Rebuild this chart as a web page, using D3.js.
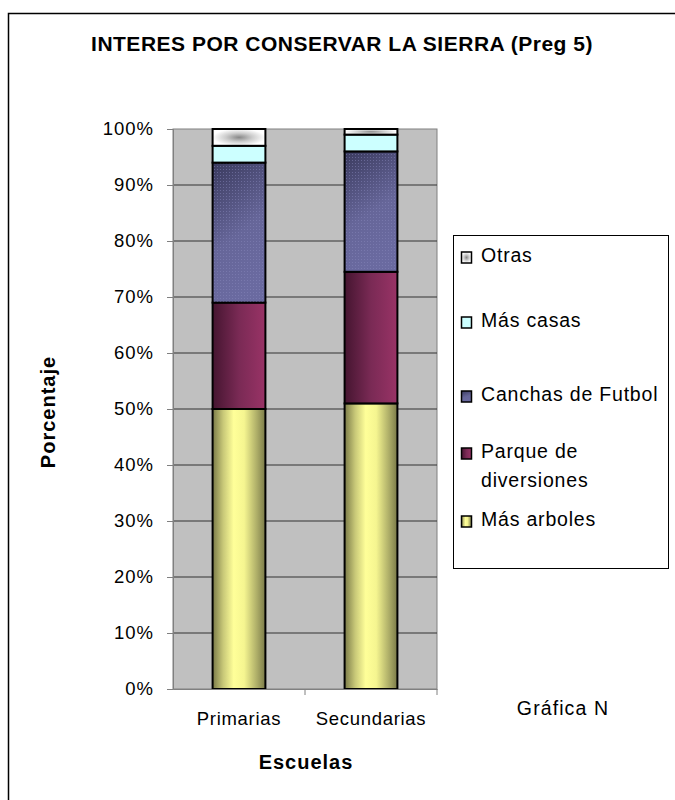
<!DOCTYPE html>
<html><head><meta charset="utf-8">
<script src="https://cdn.jsdelivr.net/npm/d3@7"></script>
<style>body{margin:0;background:#fff}svg{display:block;font-family:"Liberation Sans",Arial,sans-serif}</style>
</head><body><svg id="c" width="675" height="800"></svg>
<script>
const categories = ["Primarias", "Secundarias"];
const seriesNames = ["Más arboles", "Parque de diversiones", "Canchas de Futbol", "Más casas", "Otras"];
const masArboles = [50, 51];
const parque = [19, 23.5];
const canchas = [25, 21.5];
const masCasas = [3, 3];
const otras = [3, 1];
const yTicks = [0, 10, 20, 30, 40, 50, 60, 70, 80, 90, 100];
const title = "INTERES POR CONSERVAR LA SIERRA (Preg 5)";

const svg = d3.select("#c");
const defs = svg.append("defs");
function hgrad(id, stops) {
  const g = defs.append("linearGradient").attr("id", id).attr("x1", "0").attr("x2", "1").attr("y1", "0").attr("y2", "0");
  stops.forEach(s => g.append("stop").attr("offset", s[0]).attr("stop-color", s[1]));
}
hgrad("gYellow", [[0, "#7a7a48"], [0.2, "#c8c878"], [0.4, "#ffff99"], [0.6, "#f5f590"], [0.85, "#aaaa66"], [1, "#7a7a48"]]);
hgrad("gMaroon", [[0, "#451530"], [0.5, "#7a2a55"], [1, "#993366"]]);
const gb = defs.append("linearGradient").attr("id", "gBlue").attr("x1", "0").attr("x2", "0.3").attr("y1", "0").attr("y2", "1");
gb.append("stop").attr("offset", 0).attr("stop-color", "#3a3a5e");
gb.append("stop").attr("offset", 0.6).attr("stop-color", "#666699");
gb.append("stop").attr("offset", 1).attr("stop-color", "#6a6aa0");
const pb = defs.append("pattern").attr("id", "pDots").attr("width", 3).attr("height", 3).attr("patternUnits", "userSpaceOnUse");
pb.append("rect").attr("x", 1).attr("y", 1).attr("width", 1).attr("height", 1).attr("fill", "#8888bb").attr("opacity", 0.5);
const og = defs.append("radialGradient").attr("id", "gOtrasR");
og.append("stop").attr("offset", 0).attr("stop-color", "#888");
og.append("stop").attr("offset", 0.5).attr("stop-color", "#ccc");
og.append("stop").attr("offset", 1).attr("stop-color", "#fff");

const fills = ["url(#gYellow)", "url(#gMaroon)", "url(#gBlue)", "#ccffff", "url(#gOtrasR)"];
const FONT = "Liberation Sans, Arial, sans-serif";

svg.append("rect").attr("x", 8.5).attr("y", 13.5).attr("width", 700).attr("height", 800).attr("fill", "none").attr("stroke", "#000").attr("stroke-width", 1.5);

const pLeft = 173, pRight = 437, pTop = 129, pBottom = 689;
const x = d3.scaleBand().domain(categories).range([pLeft, pRight]).paddingInner(0).paddingOuter(0);
const y = d3.scaleLinear().domain([0, 100]).range([pBottom, pTop]);

svg.append("rect").attr("x", pLeft).attr("y", pTop).attr("width", pRight - pLeft).attr("height", pBottom - pTop).attr("fill", "#c0c0c0").attr("stroke", "#808080").attr("stroke-width", 1);

svg.append("g").selectAll("line").data(yTicks.filter(t => t > 0 && t < 100)).join("line")
  .attr("x1", pLeft).attr("x2", pRight).attr("y1", d => y(d)).attr("y2", d => y(d))
  .attr("stroke", "#333").attr("stroke-width", 1.2);

const rows = categories.map((c, i) => ({cat: c, s0: masArboles[i], s1: parque[i], s2: canchas[i], s3: masCasas[i], s4: otras[i]}));
const stack = d3.stack().keys(["s0", "s1", "s2", "s3", "s4"])(rows);
const bw = x.bandwidth() * 0.4;
stack.forEach((layer, li) => {
  const g = svg.append("g");
  g.selectAll("rect").data(layer).join("rect")
    .attr("x", d => x(d.data.cat) + (x.bandwidth() - bw) / 2)
    .attr("y", d => y(d[1]))
    .attr("width", bw)
    .attr("height", d => y(d[0]) - y(d[1]))
    .attr("fill", fills[li])
    .attr("stroke", "#000").attr("stroke-width", 2);
  if (li === 2) {
    g.selectAll("rect.dots").data(layer).join("rect").attr("class", "dots")
      .attr("x", d => x(d.data.cat) + (x.bandwidth() - bw) / 2 + 1)
      .attr("y", d => y(d[1]) + 1)
      .attr("width", bw - 2)
      .attr("height", d => y(d[0]) - y(d[1]) - 2)
      .attr("fill", "url(#pDots)");
  }
});

const yAxis = d3.axisLeft(y).tickValues(yTicks).tickFormat(d => d + "%").tickSize(6).tickPadding(13);
const ya = svg.append("g").attr("transform", `translate(${pLeft},0)`).call(yAxis);
ya.select(".domain").attr("stroke", "#808080");
ya.selectAll(".tick line").attr("stroke", "#808080");
ya.selectAll("text").attr("font-size", 18.5).attr("letter-spacing", 1).attr("fill", "#000").attr("font-family", FONT);

const xAxis = d3.axisBottom(x).tickSize(0).tickPadding(23);
const xa = svg.append("g").attr("transform", `translate(0,${pBottom})`).call(xAxis);
xa.select(".domain").attr("stroke", "#808080");
xa.selectAll("text").attr("font-size", 18.5).attr("letter-spacing", 0.7).attr("fill", "#000").attr("font-family", FONT);
svg.append("g").selectAll("line").data(categories).join("line")
  .attr("x1", d => x(d) + x.bandwidth()).attr("x2", d => x(d) + x.bandwidth())
  .attr("y1", pBottom).attr("y2", pBottom + 6).attr("stroke", "#808080");

svg.append("text").attr("x", 342).attr("y", 51).attr("text-anchor", "middle").attr("font-size", 21).attr("font-weight", "bold").attr("letter-spacing", 0.5).text(title);
svg.append("text").attr("transform", `translate(55,412) rotate(-90)`).attr("text-anchor", "middle").attr("font-size", 20).attr("font-weight", "bold").attr("letter-spacing", 1).text("Porcentaje");
svg.append("text").attr("x", 306).attr("y", 769).attr("text-anchor", "middle").attr("font-size", 20).attr("font-weight", "bold").attr("letter-spacing", 1).text("Escuelas");
svg.append("text").attr("x", 563).attr("y", 715).attr("text-anchor", "middle").attr("font-size", 19.5).attr("letter-spacing", 1.1).text("Gráfica N");

svg.append("rect").attr("x", 453.5).attr("y", 235.5).attr("width", 215).attr("height", 333).attr("fill", "#fff").attr("stroke", "#000").attr("stroke-width", 1);
const legendItems = [
  {name: seriesNames[4], fill: fills[4], base: 262},
  {name: seriesNames[3], fill: fills[3], base: 327},
  {name: seriesNames[2], fill: fills[2], base: 401},
  {name: seriesNames[1], fill: fills[1], base: 458},
  {name: seriesNames[0], fill: fills[0], base: 526}
];
const lg = svg.append("g").selectAll("g").data(legendItems).join("g");
lg.append("rect").attr("x", 461.5).attr("y", d => d.base - 10).attr("width", 10).attr("height", 11)
  .attr("fill", d => d.fill).attr("stroke", "#000").attr("stroke-width", 1.5);
lg.each(function(d) {
  const t = d3.select(this).append("text").attr("x", 481).attr("y", d.base).attr("font-size", 19.5).attr("letter-spacing", 0.8);
  if (d.name === "Parque de diversiones") {
    t.append("tspan").attr("x", 481).text("Parque de");
    t.append("tspan").attr("x", 481).attr("dy", 29).text("diversiones");
  } else t.text(d.name);
});
</script></body></html>
